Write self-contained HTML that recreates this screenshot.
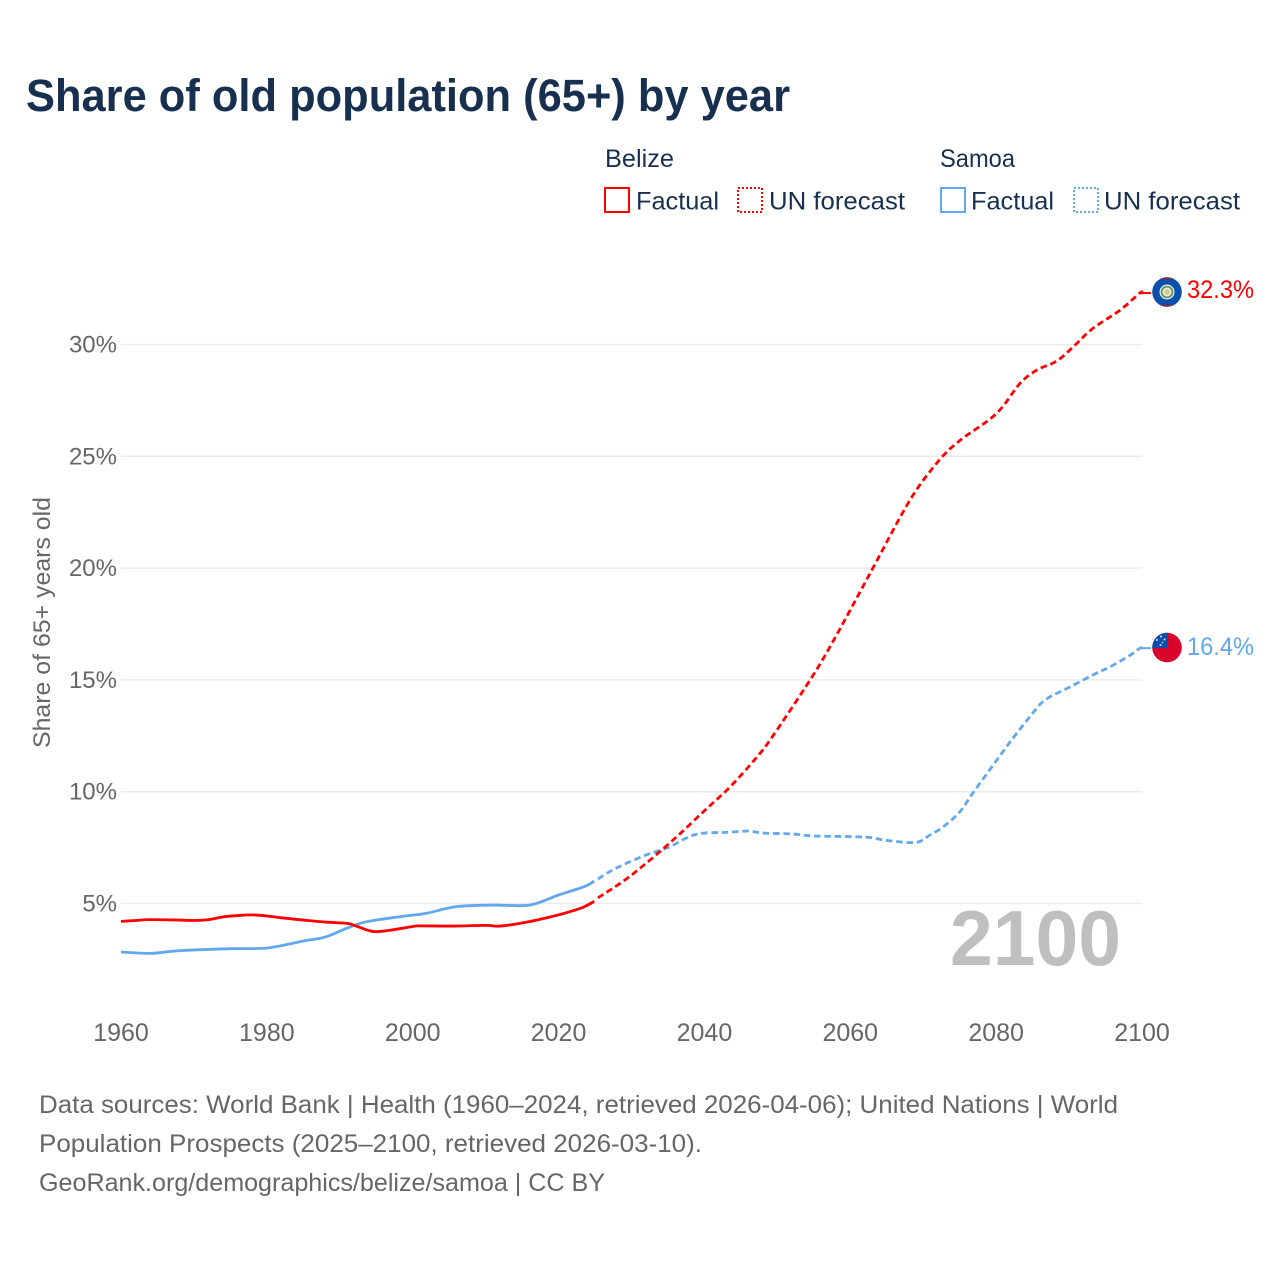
<!DOCTYPE html>
<html lang="en">
<head>
<meta charset="utf-8">
<title>Share of old population (65+) by year</title>
<style>
html,body{margin:0;padding:0;background:#fff;}
svg{display:block;}
text{font-family:"Liberation Sans",sans-serif;}
</style>
</head>
<body>
<svg id="chart" width="1280" height="1280" viewBox="0 0 1280 1280" xmlns="http://www.w3.org/2000/svg">
  <rect x="0" y="0" width="1280" height="1280" fill="#fff"/>
  <text x="26" y="111" font-size="45" font-weight="700" fill="#18304f" textLength="764" lengthAdjust="spacingAndGlyphs">Share of old population (65+) by year</text>

  <g font-size="25" fill="#18304f">
    <text x="605" y="167" textLength="69" lengthAdjust="spacingAndGlyphs">Belize</text>
    <rect x="605" y="188" width="24" height="24" fill="none" stroke="#ff0000" stroke-width="2"/>
    <text x="636" y="209.5" textLength="83" lengthAdjust="spacingAndGlyphs">Factual</text>
    <rect x="738" y="188" width="24" height="24" fill="none" stroke="#ff0000" stroke-width="2" stroke-dasharray="2 2"/>
    <text x="769" y="209.5" textLength="136" lengthAdjust="spacingAndGlyphs">UN forecast</text>
    <text x="940" y="167" textLength="75" lengthAdjust="spacingAndGlyphs">Samoa</text>
    <rect x="941" y="188" width="24" height="24" fill="none" stroke="#62a8ec" stroke-width="2"/>
    <text x="971" y="209.5" textLength="83" lengthAdjust="spacingAndGlyphs">Factual</text>
    <rect x="1074" y="188" width="24" height="24" fill="none" stroke="#62a8ec" stroke-width="2" stroke-dasharray="2 2"/>
    <text x="1104" y="209.5" textLength="136" lengthAdjust="spacingAndGlyphs">UN forecast</text>
  </g>

  <g id="grid"></g>
  <g id="yticks"></g>
  <g id="xticks"></g>

  <text transform="translate(50,748) rotate(-90)" font-size="24" fill="#666" textLength="251" lengthAdjust="spacingAndGlyphs">Share of 65+ years old</text>

  <text x="950" y="965" font-size="78" font-weight="700" fill="#bfbfbf" textLength="171" lengthAdjust="spacingAndGlyphs">2100</text>

  <g id="series"></g>

  <g>
    <clipPath id="clip-bz"><circle cx="1167" cy="292" r="14.8"/></clipPath>
    <g clip-path="url(#clip-bz)">
      <rect x="1150" y="275" width="34" height="34" fill="#0b4fae"/>
      <rect x="1150" y="275" width="34" height="4" fill="#9e1b3a"/>
      <rect x="1150" y="305" width="34" height="4" fill="#9e1b3a"/>
    </g>
    <circle cx="1167" cy="292" r="7.5" fill="#eef2ea"/>
    <circle cx="1167" cy="292" r="5.4" fill="none" stroke="#5d9460" stroke-width="1.8"/>
    <circle cx="1167" cy="292" r="3" fill="#d8c98e"/>
  </g>
  <g>
    <clipPath id="clip-ws"><circle cx="1167" cy="647.5" r="14.8"/></clipPath>
    <g clip-path="url(#clip-ws)">
      <rect x="1150" y="630" width="34" height="35" fill="#d9042b"/>
      <rect x="1150" y="630" width="17.5" height="18" fill="#0b4fae"/>
      <circle cx="1161" cy="636.5" r="1" fill="#dfe9f7"/>
      <circle cx="1157" cy="640" r="1" fill="#dfe9f7"/>
      <circle cx="1164.5" cy="639.5" r="1" fill="#dfe9f7"/>
      <circle cx="1162.5" cy="642.5" r="0.8" fill="#dfe9f7"/>
      <circle cx="1160.5" cy="645" r="1" fill="#dfe9f7"/>
    </g>
  </g>

  <text x="1187" y="298" font-size="25" fill="#ff0000" textLength="67" lengthAdjust="spacingAndGlyphs">32.3%</text>
  <text x="1187" y="655" font-size="25" fill="#62a8ec" textLength="67" lengthAdjust="spacingAndGlyphs">16.4%</text>

  <g font-size="25" fill="#666">
    <text x="39" y="1113" textLength="1079" lengthAdjust="spacingAndGlyphs">Data sources: World Bank | Health (1960–2024, retrieved 2026-04-06); United Nations | World</text>
    <text x="39" y="1152" textLength="663" lengthAdjust="spacingAndGlyphs">Population Prospects (2025–2100, retrieved 2026-03-10).</text>
    <text x="39" y="1191" textLength="566" lengthAdjust="spacingAndGlyphs">GeoRank.org/demographics/belize/samoa | CC BY</text>
  </g>
</svg>
<script>
const xTickYears = [1960, 1980, 2000, 2020, 2040, 2060, 2080, 2100];
const yTickValues = [5, 10, 15, 20, 25, 30];

const belizeFactualYears = [1960,1962,1964,1968,1970,1972,1974,1976,1978,1980,1982,1985,1988,1991,1992,1994,1995,1997,2000,2001,2005,2010,2012,2016,2020,2022,2023.5,2024.9];
const belizeFactualValues = [4.20,4.24,4.28,4.26,4.24,4.28,4.40,4.46,4.49,4.44,4.36,4.26,4.17,4.11,4.02,3.79,3.74,3.81,3.97,4.00,3.99,4.02,3.99,4.19,4.49,4.68,4.85,5.10];
const belizeForecastYears = [2025.4,2030,2035.7,2040,2043.5,2047.2,2049.4,2054.5,2057.2,2060,2063.1,2068.2,2072,2075,2080,2083.3,2085.6,2087.8,2089.2,2091.1,2093.3,2097,2099.7,2100];
const belizeForecastValues = [5.25,6.27,7.84,9.15,10.21,11.55,12.5,15.0,16.47,18.13,20.0,23.05,24.75,25.7,26.9,28.27,28.86,29.17,29.48,30.06,30.73,31.54,32.3,32.3];

const samoaFactualYears = [1960,1964,1968,1975,1980,1985,1988,1991,1993,1995,1999,2002,2006,2011,2016,2020,2023.5,2024.9];
const samoaFactualValues = [2.83,2.77,2.89,2.98,3.01,3.32,3.50,3.90,4.13,4.26,4.44,4.57,4.86,4.93,4.93,5.38,5.75,6.0];
const samoaForecastYears = [2025.4,2028,2032,2035,2038,2040,2043,2046,2048,2052,2055,2062,2065,2069,2070.9,2072.7,2075,2076.8,2079.6,2081.9,2084.6,2086.7,2090.1,2093.8,2095.6,2098.4,2099.7,2100];
const samoaForecastValues = [6.1,6.6,7.17,7.5,8.0,8.15,8.18,8.24,8.15,8.11,8.02,7.97,7.82,7.73,8.06,8.42,9.09,9.94,11.19,12.22,13.34,14.1,14.68,15.31,15.58,16.11,16.42,16.42];

const SVG_NS = 'http://www.w3.org/2000/svg';
function xScale(year) { return 121 + (year - 1960) * (1142 - 121) / 140; }
function yScale(value) { return 903.5 - (value - 5) * (903.5 - 344.5) / 25; }

function smoothPath(years, values) {
  const pts = years.map(function (yr, i) { return [xScale(yr), yScale(values[i])]; });
  let d = 'M' + pts[0][0].toFixed(2) + ' ' + pts[0][1].toFixed(2);
  for (let i = 0; i < pts.length - 1; i++) {
    const p0 = pts[Math.max(i - 1, 0)];
    const p1 = pts[i];
    const p2 = pts[i + 1];
    const p3 = pts[Math.min(i + 2, pts.length - 1)];
    const c1x = p1[0] + (p2[0] - p0[0]) / 6;
    const c1y = p1[1] + (p2[1] - p0[1]) / 6;
    const c2x = p2[0] - (p3[0] - p1[0]) / 6;
    const c2y = p2[1] - (p3[1] - p1[1]) / 6;
    d += 'C' + c1x.toFixed(2) + ' ' + c1y.toFixed(2) + ' ' + c2x.toFixed(2) + ' ' + c2y.toFixed(2) + ' ' + p2[0].toFixed(2) + ' ' + p2[1].toFixed(2);
  }
  return d;
}

const gridGroup = document.getElementById('grid');
const yTickGroup = document.getElementById('yticks');
const xTickGroup = document.getElementById('xticks');
const seriesGroup = document.getElementById('series');

yTickValues.forEach(function (v) {
  const line = document.createElementNS(SVG_NS, 'line');
  
  
  line.setAttribute('x1', xScale(1960));
  line.setAttribute('x2', xScale(2100));
  line.setAttribute('y1', yScale(v));
  line.setAttribute('y2', yScale(v));
  line.setAttribute('stroke', '#ebebeb');
  line.setAttribute('stroke-width', '1.5');
  gridGroup.appendChild(line);

  const label = document.createElementNS(SVG_NS, 'text');
  
  
  label.setAttribute('x', 117);
  label.setAttribute('y', yScale(v) + 8);
  label.setAttribute('text-anchor', 'end');
  label.setAttribute('font-size', '24');
  label.setAttribute('fill', '#666');
  label.textContent = v + '%';
  yTickGroup.appendChild(label);
});

xTickYears.forEach(function (yr) {
  const label = document.createElementNS(SVG_NS, 'text');
  
  
  label.setAttribute('x', xScale(yr));
  label.setAttribute('y', 1041);
  label.setAttribute('text-anchor', 'middle');
  label.setAttribute('font-size', '25');
  label.setAttribute('fill', '#666');
  label.textContent = yr;
  xTickGroup.appendChild(label);
});

function drawLine(years, values, color, dashed, name) {
  const path = document.createElementNS(SVG_NS, 'path');
  
  
  path.setAttribute('d', smoothPath(years, values));
  path.setAttribute('fill', 'none');
  path.setAttribute('stroke', color);
  path.setAttribute('stroke-width', '2.8');
  path.setAttribute('stroke-linejoin', 'round');
  if (dashed) {
    path.setAttribute('stroke-dasharray', '6.5 3.8');
  }
  seriesGroup.appendChild(path);
}

function drawConnector(years, values, color, name) {
  const lastIndex = values.length - 1;
  const line = document.createElementNS(SVG_NS, 'line');
  
  
  line.setAttribute('x1', xScale(years[lastIndex]));
  line.setAttribute('x2', xScale(years[lastIndex]) + 9);
  line.setAttribute('y1', yScale(values[lastIndex]));
  line.setAttribute('y2', yScale(values[lastIndex]));
  line.setAttribute('stroke', color);
  line.setAttribute('stroke-width', '2');
  seriesGroup.appendChild(line);
}

drawLine(samoaFactualYears, samoaFactualValues, '#62a8ec', false, 'line-samoa-factual');
drawLine(samoaForecastYears, samoaForecastValues, '#62a8ec', true, 'line-samoa-forecast');
drawConnector(samoaForecastYears, samoaForecastValues, '#62a8ec', 'connector-samoa');
drawLine(belizeFactualYears, belizeFactualValues, '#ff0000', false, 'line-belize-factual');
drawLine(belizeForecastYears, belizeForecastValues, '#ff0000', true, 'line-belize-forecast');
drawConnector(belizeForecastYears, belizeForecastValues, '#ff0000', 'connector-belize');
</script>
</body>
</html>
